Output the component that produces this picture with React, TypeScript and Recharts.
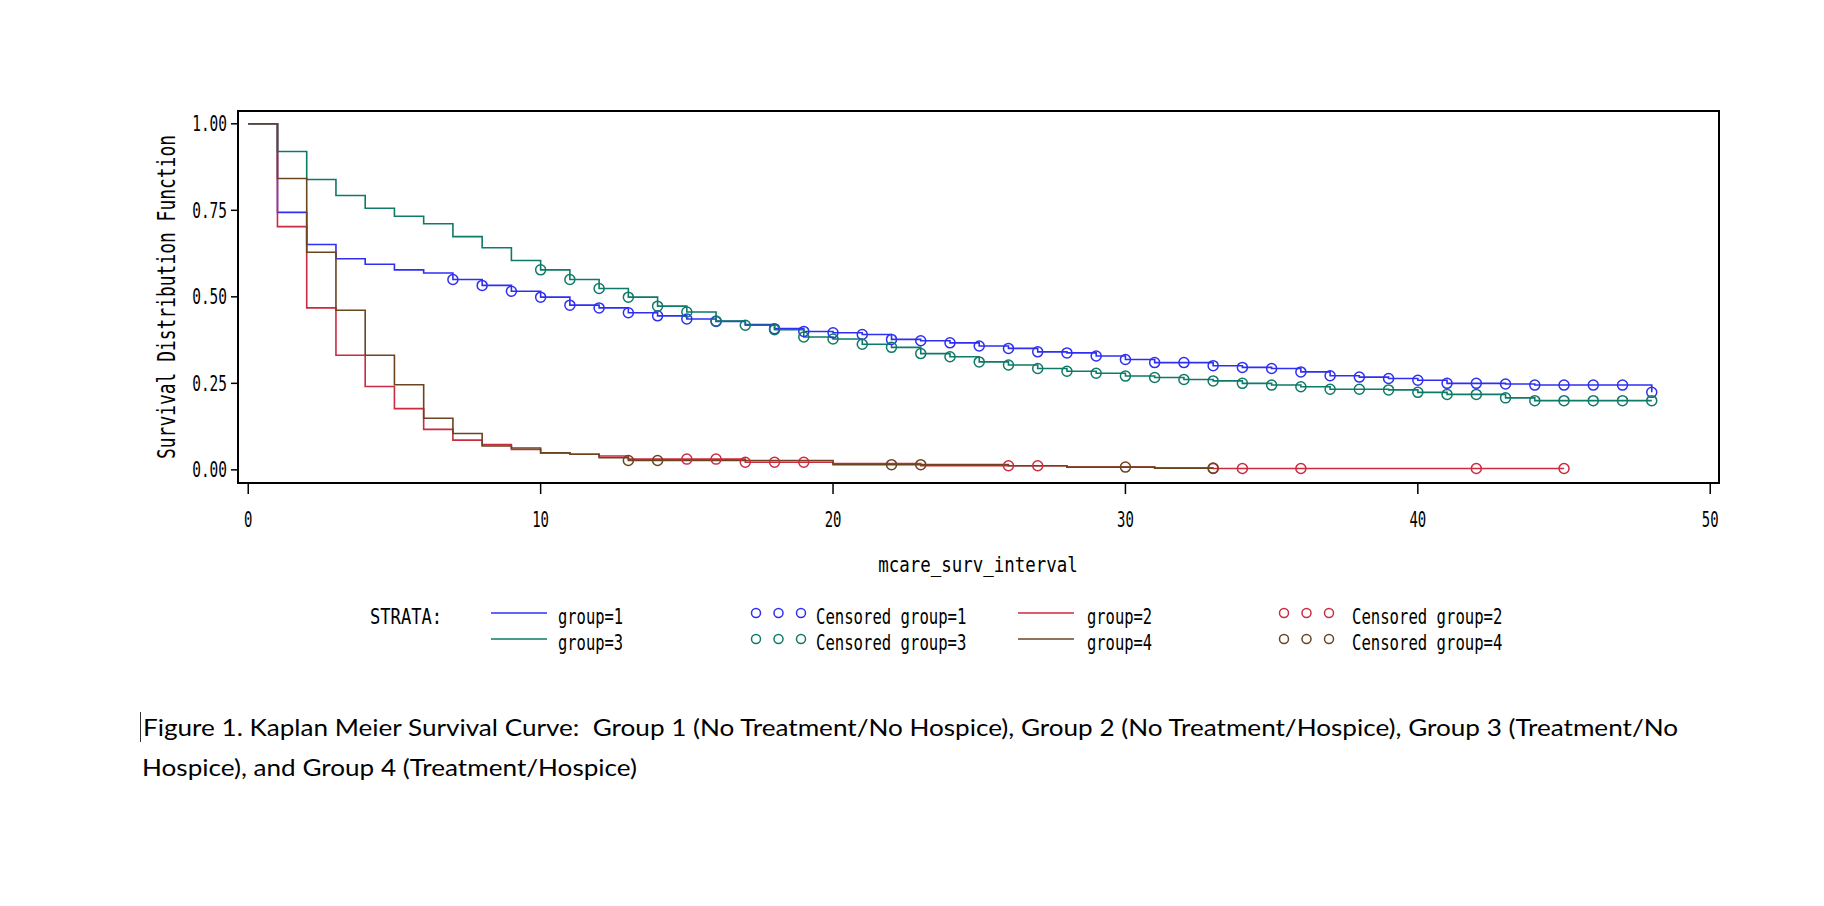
import { ComposedChart, Line, ReferenceArea, Scatter, XAxis, YAxis } from 'recharts';

// Kaplan-Meier estimates (value holds from that time on)
const group1Times = [0, 1, 2, 3, 4, 5, 6, 7, 8, 9, 10, 11, 12, 13, 14, 15, 16, 17, 18, 19, 20, 21, 22, 23, 24, 25, 26, 27, 28, 29, 30, 31, 33, 34, 35, 36, 37, 38, 39, 40, 41, 43, 44, 48];
const group1Surv = [1.0, 0.744, 0.651, 0.61, 0.594, 0.578, 0.569, 0.55, 0.533, 0.516, 0.499, 0.476, 0.468, 0.454, 0.445, 0.436, 0.429, 0.42, 0.408, 0.4, 0.396, 0.391, 0.377, 0.373, 0.367, 0.358, 0.351, 0.341, 0.338, 0.329, 0.319, 0.31, 0.301, 0.296, 0.293, 0.283, 0.272, 0.268, 0.264, 0.259, 0.25, 0.248, 0.245, 0.224];
const group1Censored = [7, 8, 9, 10, 11, 12, 13, 14, 15, 16, 18, 19, 20, 21, 22, 23, 24, 25, 26, 27, 28, 29, 30, 31, 32, 33, 34, 35, 36, 37, 38, 39, 40, 41, 42, 43, 44, 45, 46, 47, 48];

const group2Times = [0, 1, 2, 3, 4, 5, 6, 7, 8, 9, 10, 11, 12, 13, 17, 20, 23, 28, 31, 33, 45];
const group2Surv = [1.0, 0.703, 0.468, 0.331, 0.241, 0.177, 0.117, 0.086, 0.073, 0.059, 0.049, 0.045, 0.04, 0.031, 0.022, 0.018, 0.012, 0.008, 0.005, 0.004, 0.004];
const group2Censored = [15, 16, 17, 18, 19, 26, 27, 33, 34, 36, 42, 45];

const group3Times = [0, 1, 2, 3, 4, 5, 6, 7, 8, 9, 10, 11, 12, 13, 14, 15, 16, 17, 18, 19, 20, 21, 22, 23, 24, 25, 26, 27, 28, 29, 30, 31, 32, 33, 34, 35, 36, 37, 39, 40, 41, 43, 44, 48];
const group3Surv = [1.0, 0.92, 0.839, 0.793, 0.756, 0.733, 0.711, 0.674, 0.642, 0.605, 0.578, 0.55, 0.524, 0.499, 0.473, 0.456, 0.43, 0.418, 0.405, 0.384, 0.378, 0.363, 0.354, 0.336, 0.327, 0.312, 0.303, 0.293, 0.285, 0.279, 0.271, 0.267, 0.261, 0.257, 0.25, 0.245, 0.24, 0.233, 0.231, 0.224, 0.218, 0.208, 0.2, 0.2];
const group3Censored = [10, 11, 12, 13, 14, 15, 16, 17, 18, 19, 20, 21, 22, 23, 24, 25, 26, 27, 28, 29, 30, 31, 32, 33, 34, 35, 36, 37, 38, 39, 40, 41, 42, 43, 44, 45, 46, 47, 48];

const group4Times = [0, 1, 2, 3, 4, 5, 6, 7, 8, 9, 10, 11, 12, 13, 20, 26, 28, 31, 33];
const group4Surv = [1.0, 0.842, 0.629, 0.461, 0.331, 0.246, 0.149, 0.105, 0.069, 0.063, 0.049, 0.045, 0.035, 0.027, 0.015, 0.012, 0.008, 0.005, 0.005];
const group4Censored = [13, 14, 22, 23, 30, 33];

const xTicks = [0, 10, 20, 30, 40, 50];
const yTicks = [0, 0.25, 0.5, 0.75, 1];
const xDomain = [-0.35, 50.3];
const yDomain = [-0.038, 1.037];

const BLUE = '#2f2ff2';
const RED = '#cc2a40';
const GREEN = '#0e7a68';
const BROWN = '#6b4420';
const SAS = '"DejaVu Sans Mono", monospace';

const curve = (times: number[], surv: number[]) => times.map((t, i) => ({ t, s: surv[i] }));

// a censored subject sits on its group's curve at the censoring time
const censor = (times: number[], surv: number[], at: number[]) =>
  at.map((c) => {
    let s = surv[0];
    times.forEach((t, i) => {
      if (t <= c) s = surv[i];
    });
    return { t: c, s };
  });

const groups = [
  { name: '1', color: BLUE, line: curve(group1Times, group1Surv), cens: censor(group1Times, group1Surv, group1Censored) },
  { name: '2', color: RED, line: curve(group2Times, group2Surv), cens: censor(group2Times, group2Surv, group2Censored) },
  { name: '3', color: GREEN, line: curve(group3Times, group3Surv), cens: censor(group3Times, group3Surv, group3Censored) },
  { name: '4', color: BROWN, line: curve(group4Times, group4Surv), cens: censor(group4Times, group4Surv, group4Censored) }
];

function SasText({ x, y, text, size = 22, cell = 9.4, anchor = 'start', transform }: any) {
  return (
    <text x={x} y={y} textAnchor={anchor} transform={transform} fontFamily={SAS} fontSize={size} fill="#000" textLength={text.length * cell} lengthAdjust="spacingAndGlyphs">
      {text}
    </text>
  );
}

function YTick({ x, y, payload }: any) {
  return <SasText x={x} y={y + 7.5} text={Number(payload.value).toFixed(2)} size={21} cell={8.7} anchor="end" />;
}

function XTick({ x, y, payload }: any) {
  return <SasText x={x} y={y + 31} text={String(payload.value)} size={21} cell={8.4} anchor="middle" />;
}

const ring = (color: string, r = 5) => (p: any) => <circle cx={p.cx} cy={p.cy} r={r} fill="none" stroke={color} strokeWidth={1.5} />;

function Legend() {
  const cols = [
    { g: groups[0], lx: 491, cx: 756, row: 0, lineText: 558, censText: 816 },
    { g: groups[2], lx: 491, cx: 756, row: 1, lineText: 558, censText: 816 },
    { g: groups[1], lx: 1018, cx: 1284, row: 0, lineText: 1087, censText: 1352 },
    { g: groups[3], lx: 1018, cx: 1284, row: 1, lineText: 1087, censText: 1352 }
  ];
  return (
    <g>
      <SasText x={370} y={624} text="STRATA:" cell={10.3} />
      {cols.map(({ g, lx, cx, row, lineText, censText }) => {
        const ly = 613 + row * 26;
        return (
          <g key={g.name}>
            <line x1={lx} x2={lx + 56} y1={ly} y2={ly} stroke={g.color} strokeWidth={1.6} />
            <SasText x={lineText} y={ly + 11} text={`group=${g.name}`} cell={9.3} />
            {[0, 1, 2].map((k) => (
              <circle key={k} cx={cx + k * 22.5} cy={ly} r={4.5} fill="none" stroke={g.color} strokeWidth={1.5} />
            ))}
            <SasText x={censText} y={ly + 11} text={`Censored group=${g.name}`} cell={9.4} />
          </g>
        );
      })}
    </g>
  );
}

export default function App() {
  return (
    <div style={{ position: 'absolute', left: 0, top: 0, width: 1824, height: 906, background: '#fff' }}>
      <ComposedChart width={1824} height={560} margin={{ top: 111, right: 105, bottom: 0, left: 158 }}>
        <XAxis
          type="number"
          dataKey="t"
          domain={xDomain}
          ticks={xTicks}
          allowDataOverflow
          axisLine={false}
          tickSize={11}
          tickMargin={2}
          tickLine={{ stroke: '#000', strokeWidth: 1.5 }}
          tick={(p: any) => <XTick {...p} />}
          height={77}
        />
        <YAxis
          type="number"
          domain={yDomain}
          ticks={yTicks}
          allowDataOverflow
          axisLine={false}
          tickSize={7}
          tickMargin={4}
          tickLine={{ stroke: '#000', strokeWidth: 1.5 }}
          tick={(p: any) => <YTick {...p} />}
          width={80}
        />
        <ReferenceArea x1={xDomain[0]} x2={xDomain[1]} y1={yDomain[0]} y2={yDomain[1]} fill="none" fillOpacity={0} stroke="#000" strokeWidth={2} ifOverflow="visible" />
        {groups.flatMap((g) => [
          <Line key={`l${g.name}`} data={g.line} dataKey="s" type="stepAfter" stroke={g.color} strokeWidth={1.6} dot={false} activeDot={false} isAnimationActive={false} />,
          <Scatter key={`c${g.name}`} data={g.cens} dataKey="s" shape={ring(g.color)} isAnimationActive={false} />
        ])}
      </ComposedChart>
      <svg width={1824} height={906} style={{ position: 'absolute', left: 0, top: 0, pointerEvents: 'none' }}>
        <SasText x={175} y={297} text="Survival Distribution Function" size={24} cell={10.8} anchor="middle" transform="rotate(-90 175 297)" />
        <SasText x={978} y={572} text="mcare_surv_interval" size={22} cell={10.5} anchor="middle" />
        <Legend />
        <line x1={140.5} x2={140.5} y1={712} y2={742} stroke="#333" strokeWidth={1} />
        <text x={143} y={736} fontFamily="Lato, 'Open Sans', sans-serif" fontSize={22.5} fill="#000" textLength={1535} lengthAdjust="spacingAndGlyphs" style={{ whiteSpace: 'pre' }}>
          Figure 1. Kaplan Meier Survival Curve:  Group 1 (No Treatment/No Hospice), Group 2 (No Treatment/Hospice), Group 3 (Treatment/No
        </text>
        <text x={142} y={776} fontFamily="Lato, 'Open Sans', sans-serif" fontSize={22.5} fill="#000" textLength={495} lengthAdjust="spacingAndGlyphs">
          Hospice), and Group 4 (Treatment/Hospice)
        </text>
      </svg>
    </div>
  );
}
